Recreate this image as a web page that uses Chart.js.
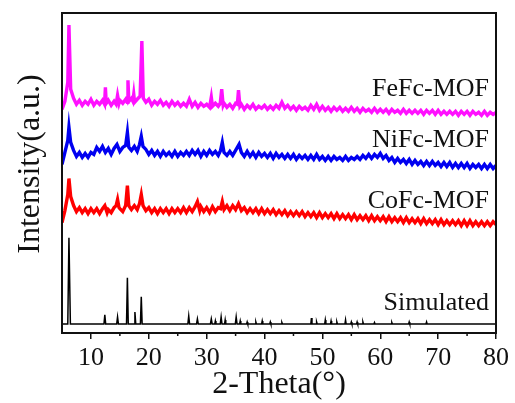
<!DOCTYPE html>
<html>
<head>
<meta charset="utf-8">
<script src="https://cdn.jsdelivr.net/npm/chart.js@4.4.1/dist/chart.umd.min.js"></script>
<style>
  html, body { margin: 0; padding: 0; background: #fff; }
  #wrap { width: 515px; height: 403px; }
</style>
</head>
<body>
<div id="wrap"><canvas id="myChart"></canvas></div>
<script>
const seriesNames = ["Simulated", "CoFc-MOF", "NiFc-MOF", "FeFc-MOF"];
const xTicks = [10, 20, 30, 40, 50, 60, 70, 80];
const xMinorTicks = [15, 25, 35, 45, 55, 65, 75];

// stacked (offset) intensities, arbitrary units, [2-theta, intensity]
const simulated = [
  [5,9],[6.0,9],[6.2,95],[6.45,9],[12.25,9],[12.4,18],[12.55,9],[14.45,9],[14.6,16],[14.75,9],
  [16.15,9],[16.3,55],[16.45,9],[17.45,9],[17.6,21],[17.75,9],[18.55,9],[18.7,36],[18.85,9],
  [26.75,9],[26.9,17],[27.05,9],[28.25,9],[28.4,14],[28.55,9],[30.65,9],[30.8,14],[30.95,9],
  [31.4,9],[31.5,12],[31.6,9],[32.35,9],[32.5,16],[32.65,9],[33.1,9],[33.2,13],[33.3,9],
  [34.95,9],[35.1,16],[35.25,9],[35.7,9],[35.8,12],[35.9,9],[36.9,9],[37,11],[37.1,9],
  [38.4,9],[38.5,11],[38.6,9],[39.5,9],[39.6,12],[39.7,9],[40.9,9],[41,11],[41.1,9],
  [42.9,9],[43,10.5],[43.1,9],[48,9],[48.1,15],[48.2,9],[48.9,9],[49,11],[49.1,9],
  [50.4,9],[50.5,13],[50.6,9],[51.4,9],[51.5,12],[51.6,9],[52.4,9],[52.5,11],[52.6,9],
  [53.9,9],[54,13],[54.1,9],[54.9,9],[55,11],[55.1,9],[55.9,9],[56,11],[56.1,9],
  [56.9,9],[57,11],[57.1,9],[58.9,9],[59,10.5],[59.1,9],[61.9,9],[62,10.5],[62.1,9],
  [64.9,9],[65,11],[65.1,9],[67.9,9],[68,11],[68.1,9],[80,9]
];

const cofc = [
  [5,110],[5.5,122],[6,138],[6.2,154],[6.5,136],[7,127],[7.5,121],[8,125],[8.5,120],[9,124],
  [9.5,119],[10,124],[10.5,120],[11,124],[11.5,119],[12,124],[12.4,127],[12.8,120],[13,123],
  [13.5,120],[14,125],[14.35,127],[14.6,133],[14.85,125],[15,124],[15.5,121],[16,127],[16.3,147],
  [16.55,127],[17,123],[17.5,127],[18,123],[18.4,129],[18.7,138],[19,127],[19.5,122],[20,125],
  [20.5,120],[21,124],[21.5,119],[22,124],[22.5,120],[23,124],[23.5,119],[24,124],[24.5,120],
  [25,124],[25.5,120],[26,125],[26.5,120],[27,125],[27.5,121],[28,126],[28.4,131],[28.8,122],
  [29,126],[29.5,121],[30,125],[30.5,120],[31,126],[31.5,121],[32,125],[32.4,124],[32.7,131],
  [33,123],[33.5,127],[34,122],[34.5,127],[35,123],[35.5,129],[36,122],[36.5,125],[37,120],
  [37.5,124],[38,120],[38.5,124],[39,119],[39.5,124],[40,119],[40.5,123],[41,119],[41.5,123],
  [42,118],[42.5,122],[43,118],[43.5,122],[44,117],[44.5,121],[45,117],[45.5,121],[46,117],
  [46.5,121],[47,116],[47.5,120],[48,116],[48.5,120],[49,115],[49.5,120],[50,115],[50.5,119],
  [51,115],[51.5,119],[52,114],[52.5,119],[53,114],[53.5,118],[54,114],[54.5,118],[55,113],
  [55.5,118],[56,113],[56.5,117],[57,113],[57.5,117],[58,112],[58.5,117],[59,112],[59.5,116],
  [60,112],[60.5,116],[61,111],[61.5,116],[62,111],[62.5,115],[63,111],[63.5,115],[64,110],
  [64.5,115],[65,110],[65.5,114],[66,110],[66.5,114],[67,109],[67.5,114],[68,109],[68.5,113],
  [69,109],[69.5,113],[70,108],[70.5,113],[71,108],[71.5,112],[72,108],[72.5,112],[73,108],
  [73.5,112],[74,107],[74.5,112],[75,107],[75.5,112],[76,107],[76.5,111],[77,107],[77.5,111],
  [78,107],[78.5,111],[79,107],[79.5,111],[80,108]
];

const nifc = [
  [5,168],[5.5,180],[6,192],[6.2,205],[6.5,190],[7,182],[7.5,176],[8,180],[8.5,175],[9,179],
  [9.5,175],[10,180],[10.5,178],[11,185],[11.5,181],[12,186],[12.5,180],[13,184],[13.5,178],
  [14,184],[14.5,188],[15,181],[15.5,185],[16,187],[16.3,200],[16.55,185],[17,182],[17.5,186],
  [18,181],[18.4,188],[18.7,196],[19,186],[19.5,183],[20,178],[20.5,182],[21,177],[21.5,181],
  [22,176],[22.5,181],[23,177],[23.5,180],[24,176],[24.5,181],[25,176],[25.5,180],[26,177],
  [26.5,181],[27,177],[27.5,182],[28,178],[28.5,182],[29,176],[29.5,181],[30,177],[30.5,182],
  [31,178],[31.5,181],[32,177],[32.4,182],[32.7,190],[33,180],[33.5,177],[34,181],[34.5,177],
  [35,182],[35.6,188],[36,180],[36.5,176],[37,181],[37.5,176],[38,180],[38.5,175],[39,180],
  [39.5,176],[40,179],[40.5,175],[41,179],[41.5,174],[42,179],[42.5,175],[43,178],[43.5,174],
  [44,178],[44.5,174],[45,178],[45.5,173],[46,177],[46.5,174],[47,177],[47.5,173],[48,177],
  [48.5,173],[49,178],[49.5,173],[50,176],[50.5,172],[51,176],[51.5,172],[52,176],[52.5,173],
  [53,175],[53.5,172],[54,176],[54.5,172],[55,175],[55.5,173],[56,176],[56.5,173],[57,177],
  [57.5,174],[58,178],[58.5,174],[59,178],[59.5,175],[60,179],[60.5,174],[61,177],[61.5,172],
  [62,175],[62.5,170],[63,174],[63.5,170],[64,173],[64.5,169],[65,173],[65.5,168],[66,172],
  [66.5,168],[67,171],[67.5,167],[68,171],[68.5,167],[69,171],[69.5,167],[70,170],[70.5,166],
  [71,170],[71.5,166],[72,170],[72.5,165],[73,169],[73.5,165],[74,169],[74.5,165],[75,169],
  [75.5,164],[76,168],[76.5,165],[77,168],[77.5,164],[78,168],[78.5,164],[79,168],[79.5,164],
  [80,167]
];

const fefc = [
  [5,223],[5.5,231],[6,250],[6.2,307],[6.5,243],[7,234],[7.5,228],[8,232],[8.5,227],[9,231],
  [9.5,228],[10,233],[10.5,227],[11,231],[11.5,228],[12,232],[12.35,228],[12.5,245],[12.65,229],
  [13,232],[13.5,227],[14,231],[14.35,228],[14.6,237],[14.85,229],[15,232],[15.5,229],[16,233],
  [16.25,230],[16.4,252],[16.55,231],[17,234],[17.25,231],[17.4,238],[17.55,230],[18,233],
  [18.5,236],[18.8,291],[19.05,234],[19.5,230],[20,233],[20.5,227],[21,231],[21.5,228],[22,232],
  [22.5,227],[23,230],[23.5,226],[24,231],[24.5,227],[25,230],[25.5,226],[26,229],[26.5,226],
  [27,233],[27.5,226],[28,230],[28.5,225],[29,229],[29.5,226],[30,228],[30.5,225],[30.8,235],
  [31,226],[31.5,229],[32,226],[32.35,229],[32.6,243],[32.85,227],[33,229],[33.5,225],[34,228],
  [34.5,224],[35,229],[35.3,228],[35.5,242],[35.75,226],[36,228],[36.5,223],[37,227],[37.5,224],
  [38,228],[38.5,223],[39,226],[39.5,224],[40,227],[40.5,223],[41,226],[41.5,223],[42,227],
  [42.5,224],[43,230],[43.5,224],[44,227],[44.5,223],[45,226],[45.5,222],[46,226],[46.5,223],
  [47,225],[47.5,222],[48,227],[48.5,223],[49,228],[49.5,222],[50,226],[50.5,222],[51,225],
  [51.5,221],[52,225],[52.5,222],[53,225],[53.5,221],[54,224],[54.5,221],[55,225],[55.5,221],
  [56,224],[56.5,220],[57,224],[57.5,221],[58,223],[58.5,220],[59,224],[59.5,220],[60,223],
  [60.5,220],[61,223],[61.5,219],[62,223],[62.5,220],[63,222],[63.5,219],[64,223],[64.5,219],
  [65,222],[65.5,219],[66,222],[66.5,219],[67,222],[67.5,218],[68,222],[68.5,219],[69,222],
  [69.5,218],[70,222],[70.5,218],[71,221],[71.5,218],[72,221],[72.5,218],[73,221],[73.5,217],
  [74,221],[74.5,218],[75,221],[75.5,217],[76,221],[76.5,218],[77,220],[77.5,217],[78,221],
  [78.5,217],[79,220],[79.5,218],[80,220]
];

const seriesData = [simulated, cofc, nifc, fefc];
const seriesColors = ["#000000", "#ff0000", "#0000f0", "#ff10ff"];
const seriesWidths = [1.5, 3.4, 3.4, 3.4];
// y value (in data units) at which each name label is centred
const labelLevels = [30, 131, 192, 243];

const serif = "'Liberation Serif', 'DejaVu Serif', serif";

const framePlugin = {
  id: "frame",
  afterDatasetsDraw(chart) {
    const { ctx, chartArea: a, scales } = chart;
    ctx.save();
    ctx.strokeStyle = "#111";
    ctx.lineWidth = 2;
    ctx.strokeRect(a.left, a.top, a.right - a.left, a.bottom - a.top);
    // minor ticks
    ctx.lineWidth = 1.5;
    ctx.beginPath();
    xMinorTicks.forEach(v => {
      const px = scales.x.getPixelForValue(v);
      ctx.moveTo(px, a.bottom);
      ctx.lineTo(px, a.bottom + 3);
    });
    ctx.stroke();
    // series names
    ctx.fillStyle = "#111";
    ctx.font = "26px " + serif;
    ctx.textAlign = "right";
    ctx.textBaseline = "middle";
    seriesNames.forEach((name, i) => {
      ctx.fillText(name, a.right - 7, scales.y.getPixelForValue(labelLevels[i]));
    });
    // y axis title
    ctx.translate(31, a.top + (a.bottom - a.top) / 2 - 9);
    ctx.rotate(-Math.PI / 2);
    ctx.textAlign = "center";
    ctx.font = "32px " + serif;
    ctx.fillText("Intensity(a.u.)", 0, 0);
    ctx.restore();
  }
};

const config = {
  type: "line",
  data: {
    datasets: seriesData.map((d, i) => ({
      label: seriesNames[i],
      data: d.map(p => ({ x: p[0], y: p[1] })),
      borderColor: seriesColors[i],
      borderWidth: seriesWidths[i],
      pointRadius: 0,
      tension: 0,
      fill: false,
    })),
  },
  options: {
    responsive: true,
    maintainAspectRatio: false,
    animation: false,
    layout: { padding: { left: 62, right: 18, top: 13, bottom: 2 } },
    plugins: { legend: { display: false }, tooltip: { enabled: false } },
    scales: {
      x: {
        type: "linear",
        min: 5,
        max: 80,
        afterBuildTicks: scale => { scale.ticks = xTicks.map(v => ({ value: v })); },
        border: { display: false },
        grid: { drawOnChartArea: false, color: "#111", lineWidth: 1.5, tickLength: 6 },
        ticks: { color: "#111", padding: 6, maxRotation: 0, font: { family: serif, size: 26, lineHeight: 1.0 } },
        title: {
          display: true,
          text: "2-Theta(°)",
          color: "#111",
          padding: { top: -8, bottom: 0 },
          font: { family: serif, size: 32, lineHeight: 1.0 },
        },
      },
      y: {
        display: false,
        min: 0,
        max: 319,
      },
    },
  },
  plugins: [framePlugin],
};

let myChart = new Chart(document.getElementById("myChart"), config);
</script>
</body>
</html>
